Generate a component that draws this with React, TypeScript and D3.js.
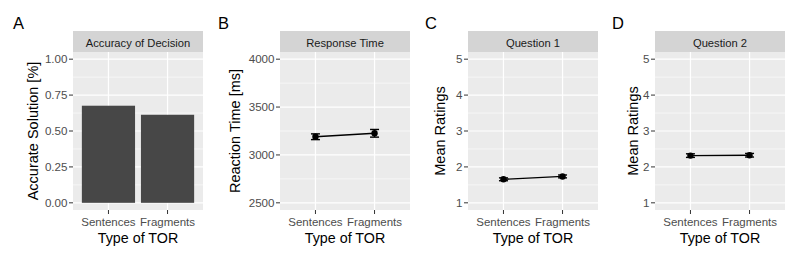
import * as d3 from 'd3'

const W = 800
const H = 260
const FONT = '"Liberation Sans", Arial, Helvetica, sans-serif'

const categories = ['Sentences', 'Fragments']

// panel A
const accuracy = [0.676, 0.613]
// panel B
const rtMean = [3190, 3226]
const rtErr = [30, 40]
// panel C
const q1Mean = [1.655, 1.735]
const q1Err = [0.04, 0.04]
// panel D
const q2Mean = [2.315, 2.325]
const q2Err = [0.05, 0.05]

const accTicks = [0, 0.25, 0.5, 0.75, 1]
const rtTicks = [2500, 3000, 3500, 4000]
const ratingTicks = [1, 2, 3, 4, 5]

const PANEL_W = 130
const STRIP_TOP = 31
const STRIP_H = 21
const PANEL_TOP = STRIP_TOP + STRIP_H
const PANEL_BOTTOM = 210

type PanelDef = {
  letter: string
  title: string
  yTitle: string
  left: number
  letterX: number
  yTitleX: number
  ticks: number[]
  fmt: (v: number) => string
  kind: 'bar' | 'point'
  values: number[]
  errs?: number[]
}

const panels: PanelDef[] = [
  { letter: 'A', title: 'Accuracy of Decision', yTitle: 'Accurate Solution [%]', left: 73, letterX: 13, yTitleX: 33, ticks: accTicks, fmt: d3.format('.2f'), kind: 'bar', values: accuracy },
  { letter: 'B', title: 'Response Time', yTitle: 'Reaction Time [ms]', left: 280, letterX: 218, yTitleX: 235, ticks: rtTicks, fmt: String, kind: 'point', values: rtMean, errs: rtErr },
  { letter: 'C', title: 'Question 1', yTitle: 'Mean Ratings', left: 468, letterX: 425, yTitleX: 440, ticks: ratingTicks, fmt: String, kind: 'point', values: q1Mean, errs: q1Err },
  { letter: 'D', title: 'Question 2', yTitle: 'Mean Ratings', left: 655, letterX: 612, yTitleX: 633, ticks: ratingTicks, fmt: String, kind: 'point', values: q2Mean, errs: q2Err },
]

function Panel({ p }: { p: PanelDef }) {
  const lo = p.ticks[0]
  const hi = p.ticks[p.ticks.length - 1]
  const pad = (hi - lo) * 0.05
  const y = d3.scaleLinear().domain([lo - pad, hi + pad]).range([PANEL_BOTTOM, PANEL_TOP])
  const x = d3.scalePoint<string>().domain(categories).range([p.left, p.left + PANEL_W]).padding(0.6)
  const step = x.step()
  const minor = p.ticks.slice(0, -1).map((t, i) => (t + p.ticks[i + 1]) / 2)
  const line = d3.line<number>().x((_, i) => x(categories[i])!).y((v) => y(v))
  const cx = p.left + PANEL_W / 2

  return (
    <g>
      <text x={p.letterX} y={29} fontSize={16.5} fill="#000">{p.letter}</text>
      <rect x={p.left} y={STRIP_TOP} width={PANEL_W} height={STRIP_H} fill="#d4d4d4" />
      <text x={cx} y={46.5} textAnchor="middle" fontSize={11.2} fill="#1a1a1a">{p.title}</text>
      <rect x={p.left} y={PANEL_TOP} width={PANEL_W} height={PANEL_BOTTOM - PANEL_TOP} fill="#ebebeb" />
      {minor.map((t) => (
        <line key={'m' + t} x1={p.left} x2={p.left + PANEL_W} y1={y(t)} y2={y(t)} stroke="#fff" strokeWidth={0.6} />
      ))}
      {p.ticks.map((t) => (
        <line key={'g' + t} x1={p.left} x2={p.left + PANEL_W} y1={y(t)} y2={y(t)} stroke="#fff" strokeWidth={1.2} />
      ))}
      {categories.map((c) => (
        <line key={'v' + c} x1={x(c)} x2={x(c)} y1={PANEL_TOP} y2={PANEL_BOTTOM} stroke="#fff" strokeWidth={1.2} />
      ))}

      {p.kind === 'bar' &&
        p.values.map((v, i) => (
          <rect key={i} x={x(categories[i])! - step * 0.45} width={step * 0.9} y={y(v)} height={y(0) - y(v)} fill="#474747" />
        ))}

      {p.kind === 'point' && (
        <g>
          <path d={line(p.values) ?? ''} fill="none" stroke="#000" strokeWidth={1.4} />
          {p.values.map((v, i) => {
            const px = x(categories[i])!
            const e = p.errs![i]
            return (
              <g key={i}>
                <line x1={px} x2={px} y1={y(v - e)} y2={y(v + e)} stroke="#000" strokeWidth={1.4} />
                <line x1={px - 4.5} x2={px + 4.5} y1={y(v - e)} y2={y(v - e)} stroke="#000" strokeWidth={1.4} />
                <line x1={px - 4.5} x2={px + 4.5} y1={y(v + e)} y2={y(v + e)} stroke="#000" strokeWidth={1.4} />
                <circle cx={px} cy={y(v)} r={3.2} fill="#000" />
              </g>
            )
          })}
        </g>
      )}

      {/* y axis */}
      {p.ticks.map((t) => (
        <g key={'t' + t}>
          <line x1={p.left - 4} x2={p.left} y1={y(t)} y2={y(t)} stroke="#333" strokeWidth={1} />
          <text x={p.left - 5.5} y={y(t) + 4} textAnchor="end" fontSize={11.6} fill="#4d4d4d">{p.fmt(t)}</text>
        </g>
      ))}
      {/* x axis */}
      {categories.map((c) => (
        <g key={'x' + c}>
          <line x1={x(c)} x2={x(c)} y1={PANEL_BOTTOM} y2={PANEL_BOTTOM + 4} stroke="#333" strokeWidth={1} />
          <text x={x(c)} y={226} textAnchor="middle" fontSize={11.5} fill="#4d4d4d">{c}</text>
        </g>
      ))}
      <text x={cx} y={243} textAnchor="middle" fontSize={14.3} fill="#000">Type of TOR</text>
      <text
        transform={`translate(${p.yTitleX},${(PANEL_TOP + PANEL_BOTTOM) / 2}) rotate(-90)`}
        textAnchor="middle"
        dy="0.35em"
        fontSize={14.5}
        fill="#000"
      >
        {p.yTitle}
      </text>
    </g>
  )
}

export default function App() {
  return (
    <svg width={W} height={H} style={{ position: 'absolute', left: 0, top: 0, background: '#fff' }} fontFamily={FONT}>
      <rect width={W} height={H} fill="#fff" />
      {panels.map((p) => (
        <Panel key={p.letter} p={p} />
      ))}
    </svg>
  )
}
